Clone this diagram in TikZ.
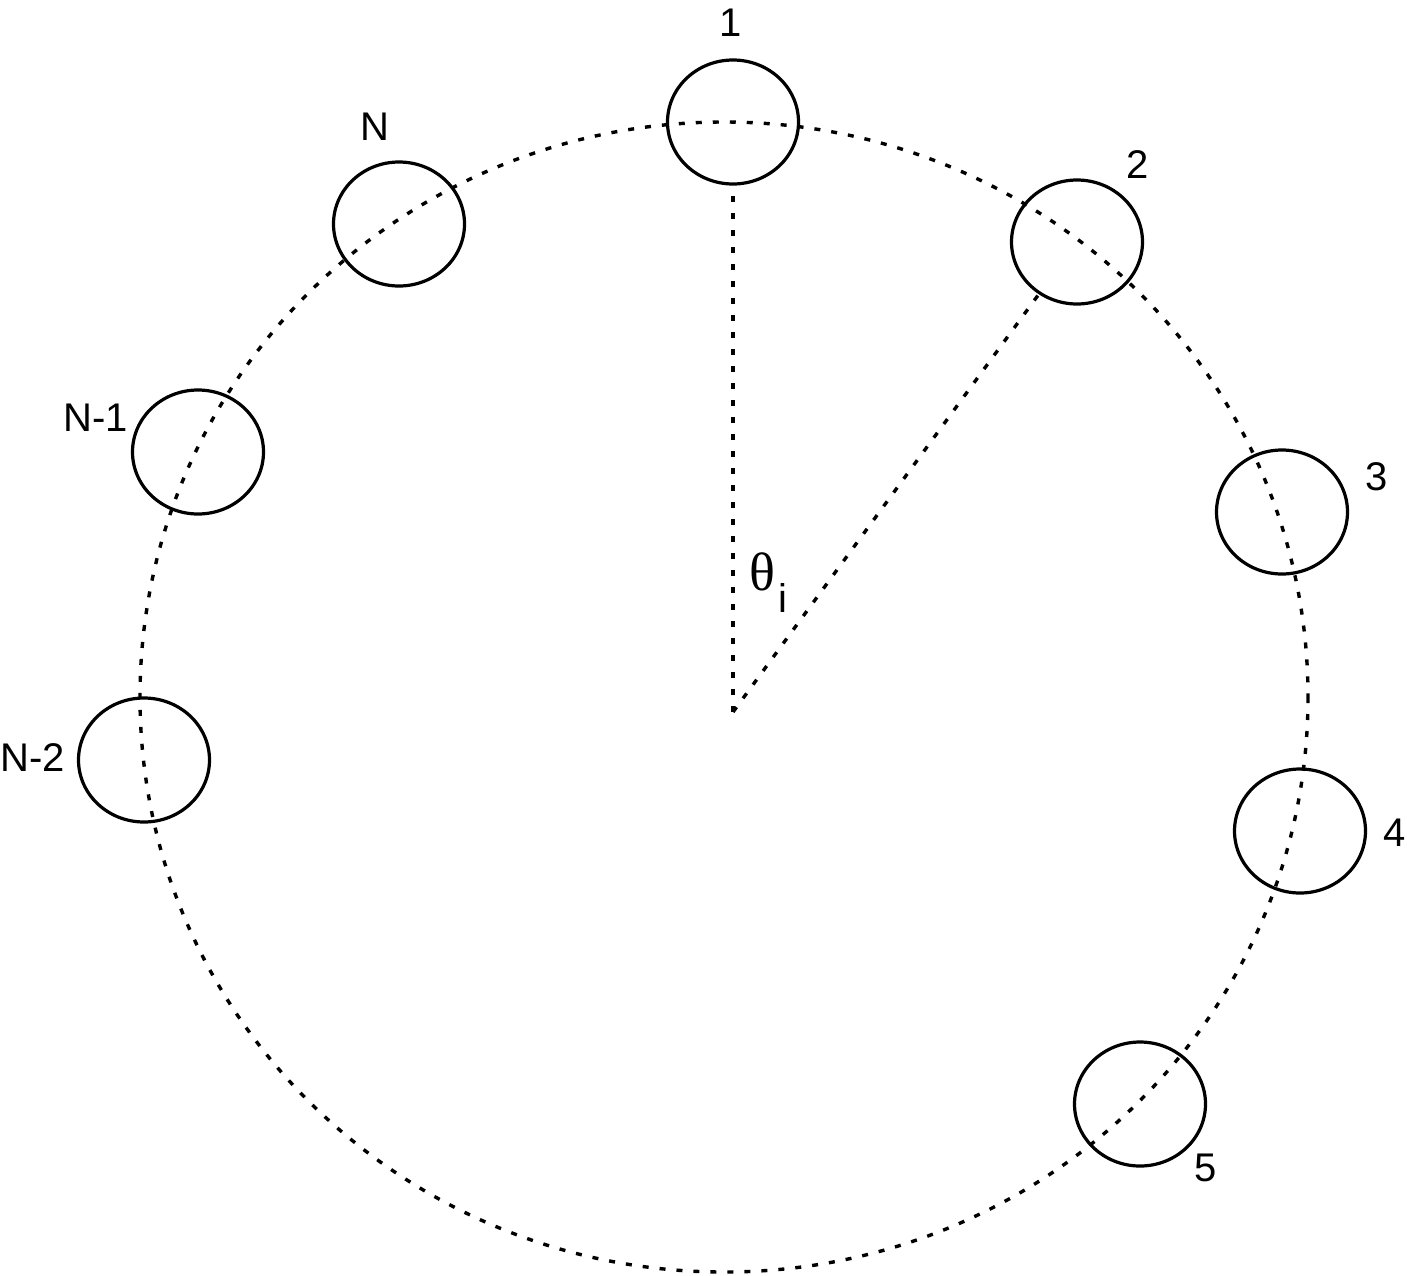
\documentclass[tikz,border=0pt]{standalone}
\usepackage{fontspec}
\setmainfont{Liberation Sans}
\newfontfamily\thetafont{Liberation Serif}
\usetikzlibrary{shapes.geometric}

\begin{document}
\begin{tikzpicture}[x=1pt,y=-1pt,
		ring/.style={line width=3.4pt, dash pattern=on 6pt off 11pt},
		ant/.style={ellipse, draw, line width=3.2pt, minimum width=131pt, minimum height=124pt, inner sep=0pt},
		tag/.style={font=\fontsize{40}{42}\selectfont, inner sep=0pt}]
	\useasboundingbox (0,0) rectangle (1407,1275);
	% array circle
	\draw[ring] (724,697) ellipse [x radius=584, y radius=575];
	% elements
	\node[ant] (c1) at (733,122) {};
	\node[ant] (c2) at (1077,242) {};
	\node[ant] (c3) at (1282,512) {};
	\node[ant] (c4) at (1300,831) {};
	\node[ant] (c5) at (1140,1104) {};
	\node[ant] (cN) at (399,224) {};
	\node[ant] (cN1) at (198,452) {};
	\node[ant] (cN2) at (144,760) {};
	% labels
	\node[tag] (l1) at (731,23) {1};
	\node[tag] (l2) at (1138,165) {2};
	\node[tag] (l3) at (1377,477) {3};
	\node[tag] (l4) at (1395,833) {4};
	\node[tag] (l5) at (1206,1168) {5};
	\node[tag] (lN) at (375,127) {N};
	\node[tag] (lN1) at (96,418) {N-1};
	\node[tag] (lN2) at (33,758) {N-2};
	% angle
	\coordinate (o) at (733,712);
	\draw[ring] (o) -- (c1.south);
	\draw[ring] (o) -- (c2);
	\node[font=\thetafont\fontsize{54}{56}\selectfont, inner sep=0pt] (th) at (762,572) {θ};
	\node[tag, anchor=base] (ti) at (783,612) {i};
\end{tikzpicture}
\end{document}
